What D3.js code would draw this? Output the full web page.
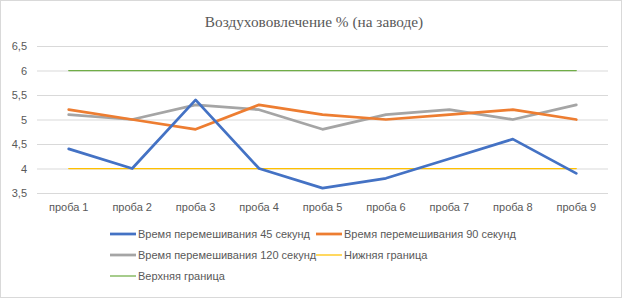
<!DOCTYPE html>
<html><head><meta charset="utf-8">
<script src="https://cdn.jsdelivr.net/npm/d3@7"></script>
<style>body{margin:0;background:#fff}svg{display:block}</style>
</head><body>
<svg id="c" width="623" height="299"></svg>
<script>
const categories = ["проба 1","проба 2","проба 3","проба 4","проба 5","проба 6","проба 7","проба 8","проба 9"];
const s45 = [4.4, 4.0, 5.4, 4.0, 3.6, 3.8, 4.2, 4.6, 3.9];
const s90 = [5.2, 5.0, 4.8, 5.3, 5.1, 5.0, 5.1, 5.2, 5.0];
const s120 = [5.1, 5.0, 5.3, 5.2, 4.8, 5.1, 5.2, 5.0, 5.3];
const lower = [4, 4, 4, 4, 4, 4, 4, 4, 4];
const upper = [6, 6, 6, 6, 6, 6, 6, 6, 6];
const yTicks = [3.5, 4, 4.5, 5, 5.5, 6, 6.5];
const seriesNames = ["Время перемешивания 45 секунд","Время перемешивания 90 секунд","Время перемешивания 120 секунд","Нижняя граница","Верхняя граница"];
const title = "Воздухововлечение % (на заводе)";

(function(){
const series = [
  {name: seriesNames[0], values: s45, color: "#4472C4", w: 2.75},
  {name: seriesNames[1], values: s90, color: "#ED7D31", w: 2.75},
  {name: seriesNames[2], values: s120, color: "#A5A5A5", w: 2.75},
  {name: seriesNames[3], values: lower, color: "#FFC000", w: 1.25},
  {name: seriesNames[4], values: upper, color: "#70AD47", w: 1.25}
];

const svg = d3.select("#c");
const font = "'Liberation Sans Narrow','Liberation Sans',Arial,sans-serif";
svg.append("rect").attr("x",0.5).attr("y",0.5).attr("width",621).attr("height",297)
  .attr("fill","#fff").attr("stroke","#d9d9d9");

svg.append("text").attr("x",314).attr("y",27).attr("text-anchor","middle")
  .attr("font-family","'Liberation Serif','Times New Roman',serif").attr("font-size",15.3)
  .attr("fill","#595959").text(title);

const mLeft = 37, mRight = 608, mTop = 46, mBottom = 193;
const x = d3.scaleBand().domain(categories).range([mLeft, mRight]);
const y = d3.scaleLinear().domain([3.5, 6.5]).range([mBottom, mTop]);

const gy = svg.append("g").attr("transform",`translate(${mLeft},0)`)
  .call(d3.axisLeft(y).tickValues(yTicks).tickSize(-(mRight-mLeft)).tickFormat(d => d3.format(".1~f")(d).replace(".", ",")));
gy.select(".domain").remove();
gy.selectAll(".tick line").attr("stroke","#d9d9d9").attr("stroke-width",1);
gy.selectAll(".tick text").attr("x",-10).attr("font-family",font).attr("font-size",11).attr("fill","#595959");

const gx = svg.append("g").attr("transform",`translate(0,${mBottom})`)
  .call(d3.axisBottom(x).tickSize(0));
gx.select(".domain").remove();
gx.selectAll(".tick text").attr("dy","1.35em").attr("font-family",font).attr("font-size",11).attr("fill","#595959");

const line = d3.line().x((d,i) => x(categories[i]) + x.bandwidth()/2).y(d => y(d));
[3,4,2,1,0].forEach(k => {
  const s = series[k];
  svg.append("path").attr("d", line(s.values)).attr("fill","none")
    .attr("stroke", s.color).attr("stroke-width", s.w).attr("stroke-linejoin","round").attr("stroke-linecap","round");
});

const legendPos = [[110,234],[316,234],[110,255],[316,255],[110,276]];
series.forEach((s,i) => {
  const [lx, ly] = legendPos[i];
  const g = svg.append("g").attr("transform",`translate(${lx},${ly})`);
  g.append("line").attr("x1",0).attr("x2",26).attr("y1",0).attr("y2",0)
    .attr("stroke",s.color).attr("stroke-width",s.w);
  g.append("text").attr("x",28).attr("y",4).attr("font-family",font).attr("font-size",11)
    .attr("fill","#595959").text(s.name);
});
})();
</script>
</body></html>
